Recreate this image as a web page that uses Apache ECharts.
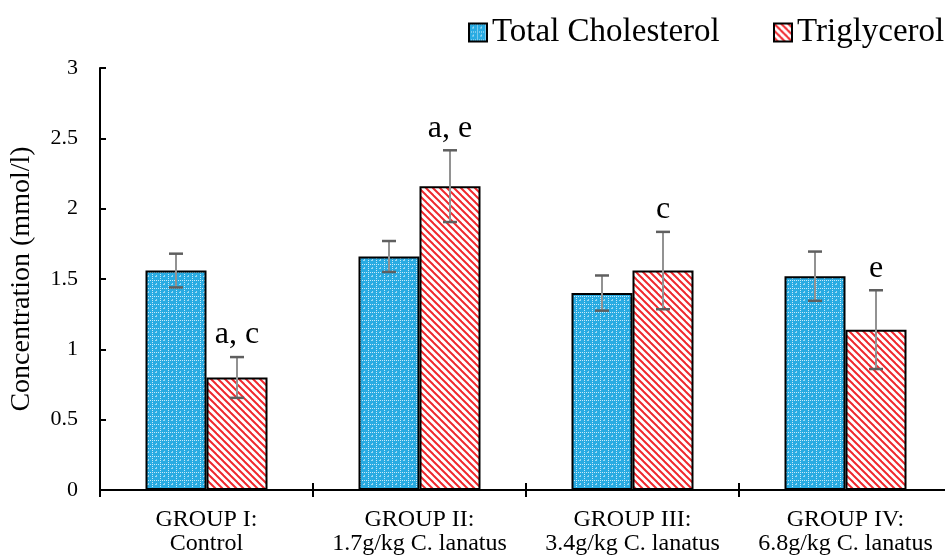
<!DOCTYPE html>
<html><head><meta charset="utf-8">
<script src="https://cdn.jsdelivr.net/npm/echarts@6/dist/echarts.min.js"></script>
<style>html,body{margin:0;padding:0;background:#fff}#c{width:945px;height:558px}</style>
</head><body><div id="c"></div>
<script>
var categories = ['GROUP I:\nControl', 'GROUP II:\n1.7g/kg C. lanatus', 'GROUP III:\n3.4g/kg C. lanatus', 'GROUP IV:\n6.8g/kg C. lanatus'];
var seriesNames = ['Total Cholesterol', 'Triglycerol'];
var totalChol = [1.56, 1.66, 1.40, 1.52];
var totalCholErr = [0.12, 0.11, 0.125, 0.175];
var trigly = [0.80, 2.16, 1.56, 1.14];
var triglyErr = [0.145, 0.255, 0.275, 0.28];
var sigLabels = ['a, c', 'a, e', 'c', 'e'];
var yTicks = [0, 0.5, 1, 1.5, 2, 2.5, 3];

function bluePattern() {
  var c = document.createElement('canvas'); c.width = 8; c.height = 8;
  var g = c.getContext('2d');
  g.fillStyle = '#29abe2'; g.fillRect(0, 0, 8, 8);
  g.fillStyle = 'rgba(255,255,255,0.75)';
  g.fillRect(0, 0, 1, 1); g.fillRect(2, 0, 1, 1); g.fillRect(4, 0, 1, 1); g.fillRect(6, 0, 1, 1);
  g.fillRect(0, 2, 1, 1); g.fillRect(0, 4, 1, 1); g.fillRect(0, 6, 1, 1);
  g.fillStyle = 'rgba(255,255,255,0.55)';
  g.fillRect(4, 4, 1, 1); g.fillRect(3, 4, 1, 1); g.fillRect(4, 3, 1, 1);
  return c;
}
function redPattern() {
  var c = document.createElement('canvas'); c.width = 7; c.height = 7;
  var g = c.getContext('2d');
  g.fillStyle = '#ffffff'; g.fillRect(0, 0, 7, 7);
  g.strokeStyle = '#f0282d'; g.lineWidth = 2;
  [-7, 0, 7].forEach(function (o) {
    g.beginPath(); g.moveTo(o - 1, -1); g.lineTo(o + 8, 8); g.stroke();
  });
  return c;
}

var BAR_W = 61;
var FONT = 'Liberation Serif, Times New Roman, serif';

function errSeries(vals, errs, side, labels) {
  var data = vals.map(function (v, i) { return [i, v, errs[i]]; });
  return {
    type: 'custom', xAxisIndex: 0, yAxisIndex: 0, z: 10, silent: true,
    data: data,
    renderItem: function (params, api) {
      var i = api.value(0), v = api.value(1), e = api.value(2);
      var lbl = labels ? labels[params.dataIndex] : '';
      var hi = api.coord([i, v + e]), lo = api.coord([i, v - e]);
      var x = hi[0] + side * BAR_W / 2;
      var cap = 7;
      var children = [
        { type: 'line', shape: { x1: x, y1: hi[1], x2: x, y2: lo[1] }, style: { stroke: '#929292', lineWidth: 2 } },
        { type: 'line', shape: { x1: x - cap, y1: hi[1], x2: x + cap, y2: hi[1] }, style: { stroke: '#5f5f5f', lineWidth: 2.5 } },
        { type: 'line', shape: { x1: x - cap, y1: lo[1], x2: x + cap, y2: lo[1] }, style: { stroke: '#5f5f5f', lineWidth: 2.5 } }
      ];
      if (lbl) {
        children.push({ type: 'text', style: { text: lbl, x: x, y: hi[1] - 6, textAlign: 'center', textVerticalAlign: 'bottom', font: '32px ' + FONT, fill: '#000' } });
      }
      return { type: 'group', children: children };
    }
  };
}

var chart = echarts.init(document.getElementById('c'), null, { renderer: 'canvas' });
var blueFill = { image: bluePattern(), repeat: 'repeat' };
var redFill = { image: redPattern(), repeat: 'repeat' };

function legendAt(left, name) {
  return {
    top: 11, left: left, itemWidth: 18, itemHeight: 18, icon: 'rect',
    textStyle: { fontFamily: FONT, fontSize: 33, color: '#000' },
    itemStyle: { borderColor: '#000', borderWidth: 2 },
    data: [name]
  };
}

chart.setOption({
  animation: false,
  backgroundColor: '#fff',
  legend: [legendAt(463, seriesNames[0]), legendAt(768, seriesNames[1])],
  grid: { left: 100, top: 68, width: 852, height: 422, outerBoundsMode: 'none', containLabel: false },
  xAxis: [{
    type: 'category', data: categories,
    axisLine: { lineStyle: { color: '#000', width: 2 } },
    axisTick: { show: true, length: 7, lineStyle: { color: '#000', width: 2 } },
    axisLabel: { fontFamily: FONT, fontSize: 24, color: '#000', lineHeight: 24, margin: 18, interval: 0 }
  }, {
    type: 'category', data: categories, position: 'bottom', gridIndex: 0,
    axisLine: { show: false },
    axisTick: { show: true, inside: true, length: 7, lineStyle: { color: '#000', width: 2 } },
    axisLabel: { show: false }
  }],
  yAxis: {
    type: 'value', min: yTicks[0], max: yTicks[yTicks.length - 1], interval: 0.5,
    name: 'Concentration (mmol/l)', nameLocation: 'middle', nameGap: 64,
    nameTextStyle: { fontFamily: FONT, fontSize: 28, color: '#000' },
    axisLine: { show: true, lineStyle: { color: '#000', width: 2 } },
    axisTick: { show: true, inside: true, length: 6, lineStyle: { color: '#000', width: 2 } },
    axisLabel: { fontFamily: FONT, fontSize: 22, color: '#000', margin: 22 },
    splitLine: { show: false }
  },
  series: [
    { name: seriesNames[0], type: 'bar', data: totalChol, barWidth: BAR_W, barGap: '0%',
      itemStyle: { color: blueFill, borderColor: '#000', borderWidth: 2 } },
    { name: seriesNames[1], type: 'bar', data: trigly, barWidth: BAR_W, barGap: '0%',
      itemStyle: { color: redFill, borderColor: '#000', borderWidth: 2 } },
    errSeries(totalChol, totalCholErr, -1, null),
    errSeries(trigly, triglyErr, 1, sigLabels)
  ]
});
</script></body></html>
